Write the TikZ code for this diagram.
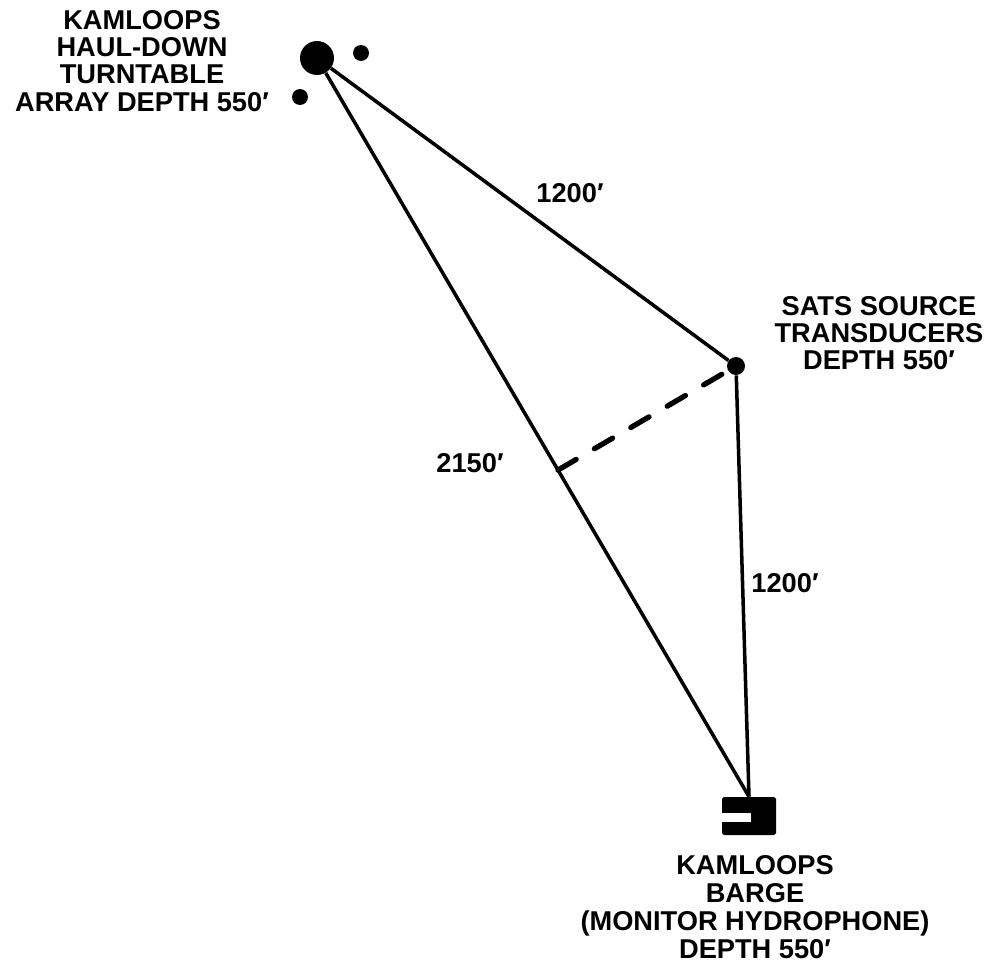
\documentclass[tikz,border=0pt]{standalone}
\usepackage{fontspec}
\setmainfont{Liberation Sans}
\usetikzlibrary{calc}

\begin{document}
\begin{tikzpicture}[
  x=0.02cm, y=-0.02cm,
  dotbig/.style={circle, fill=black, inner sep=0pt, minimum size=0.68cm},
  dotsmall/.style={circle, fill=black, inner sep=0pt, minimum size=0.32cm},
  bargebox/.style={rectangle, fill=black, inner sep=0pt, minimum width=1.08cm, minimum height=0.76cm, rounded corners=1pt},
  labeltext/.style={align=center, font=\fontsize{15.5pt}{#1}\selectfont\bfseries, inner sep=0pt},
  labeltext/.default=15.5pt,
  cable/.style={line width=2pt},
  sightline/.style={line width=3pt, dash pattern=on 12pt off 12pt, line cap=round}
]
\useasboundingbox (0,0) rectangle (988,977);

% turntable and its two side buoys
\node[dotbig] (tt) at (317,58) {};
\node[dotsmall] (ttA) at (361,53) {};
\node[dotsmall] (ttB) at (300,97) {};

% source and barge
\node[dotsmall, minimum size=0.36cm] (sats) at (736,366) {};
\node[bargebox] (barge) at (749,816) {};
\fill[white] ($(barge.west)+(-1,-3)$) rectangle ($(barge.center)+(2,6)$);

\draw[cable] (tt) -- (sats);
\draw[cable] (tt) -- (barge.north);
\draw[cable] (sats) -- (barge.north);
\coordinate (foot) at ($(tt)!(sats)!(barge.north)$);
\draw[sightline] (foot) -- (sats);

\node[labeltext] (ttlabel) at (142,61) {KAMLOOPS\\HAUL-DOWN\\TURNTABLE\\ARRAY DEPTH 550′};
\node[labeltext] (satslabel) at (879,333) {SATS SOURCE\\TRANSDUCERS\\DEPTH 550′};
\node[labeltext=15.8pt] (bargelabel) at (755,907) {KAMLOOPS\\BARGE\\(MONITOR HYDROPHONE)\\DEPTH 550′};
\node[labeltext] (lenA) at (570,193) {1200′};
\node[labeltext] (lenB) at (470,463) {2150′};
\node[labeltext] (lenC) at (785,583) {1200′};

\end{tikzpicture}
\end{document}
